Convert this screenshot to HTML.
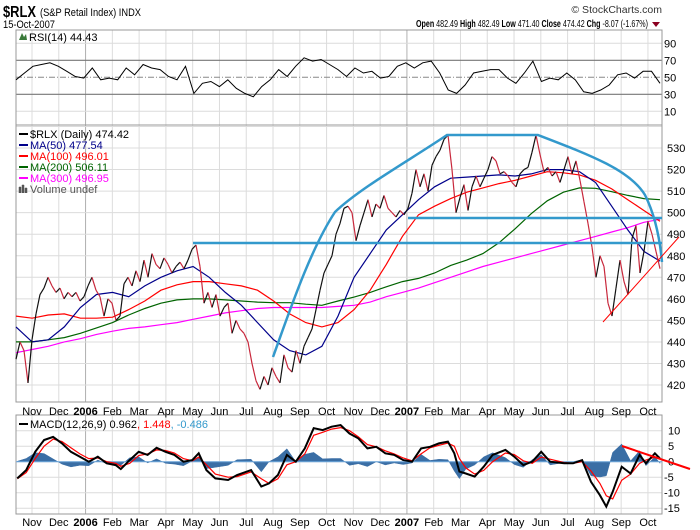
<!DOCTYPE html>
<html><head><meta charset="utf-8">
<style>
html,body{margin:0;padding:0;background:#fff;}
svg{display:block;font-family:"Liberation Sans","DejaVu Sans",sans-serif;}
</style></head>
<body>
<svg id="chart" width="700" height="530" viewBox="0 0 700 530" xmlns="http://www.w3.org/2000/svg">
  <g>
    <text x="3" y="17" font-size="16" font-weight="bold" textLength="33" lengthAdjust="spacingAndGlyphs">$RLX</text>
    <text x="40" y="16" font-size="11" textLength="101" lengthAdjust="spacingAndGlyphs">(S&amp;P Retail Index) INDX</text>
    <text x="3" y="28" font-size="11" textLength="52" lengthAdjust="spacingAndGlyphs">15-Oct-2007</text>
    <text x="662" y="13" font-size="10.5" text-anchor="end" fill="#333">© StockCharts.com</text>
    <text x="416" y="27" font-size="10.5" textLength="232" lengthAdjust="spacingAndGlyphs"><tspan font-weight="bold">Open</tspan> 482.49 <tspan font-weight="bold">High</tspan> 482.49 <tspan font-weight="bold">Low</tspan> 471.40 <tspan font-weight="bold">Close</tspan> 474.42 <tspan font-weight="bold">Chg</tspan> -8.07 (-1.67%)</text>
    <polygon points="652,22 660,22 656,27" fill="#8b0020"/>
  </g>
  <g id="grid"></g>
  <g id="marks"></g>
</svg>
<script>
// ---------- data ----------
const monthLabels = ["Nov","Dec","2006","Feb","Mar","Apr","May","Jun","Jul","Aug","Sep","Oct","Nov","Dec","2007","Feb","Mar","Apr","May","Jun","Jul","Aug","Sep","Oct"];
const priceTicks = [530,520,510,500,490,480,470,460,450,440,430,420];
const rsiTicks = [90,70,50,30,10];
const macdTicks = [10,5,0,-5,-10,-15];
const closes = [432,440,436,421,441,453,462,465,470,466,463,465,460,463,461,463,459,461,466,470,464,461,452,460,458,450,452,467,470,466,473,468,478,470,481,476,474,479,476,472,475,477,474,478,483,485,475,458,463,456,462,452,456,458,444,450,446,444,440,430,422,418,424,420,428,424,421,434,428,426,436,430,438,442,446,455,464,472,476,480,490,495,502,503,500,487,494,500,506,498,504,502,508,502,500,498,501,499,502,509,520,512,518,510,522,526,529,534,536,520,500,507,513,501,512,517,512,516,520,526,524,518,519,517,514,512,518,520,521,528,536,527,519,521,517,519,514,520,526,518,524,515,505,495,484,470,480,475,458,452,465,478,468,462,488,494,472,482,496,490,482,474];
const ma50 = [447,440,441,447,456,462,463,461,466,470,473,475,470,463,457,449,441,436,434,438,452,470,481,492,499,506,512,516,516.5,517,517.5,517,518,520,520,519,514,503,492,482,477.5];
const ma100 = [452,451,452.5,453,451,451,451.5,455,459,464,466.5,468,468,467,466,464,459,453,449,447,449,455,464,476,489,499,503,506.5,509.5,511.5,513.5,515,517,519,518.5,517.5,515,511,506,501,496];
const ma200 = [440,440,441,442,444,446.5,449,452.5,455.5,458,459.5,460,460,459.5,459,458.5,458.2,458.2,457.5,457,459,460.8,463,465.6,468,469.5,472,475.5,478,481,486,492.5,499.5,505.5,509.5,511.5,511.3,509.7,508,506.5,506];
const ma300 = [435,436.5,438,440,441.5,443.5,445,446.3,447,448,449,450.5,452,453.5,454.5,455.5,456,456,456,456,456.5,457,458.5,461,463,465,467.5,470,472.5,475,477,479,481,483,485,487,489,491,493,495.5,496.9];
const rsi = [47,55,63,65,67,63,57,51,49,61,47,49,47,61,53,65,61,59,51,47,63,31,43,45,39,47,37,31,27,39,47,59,51,63,73,69,71,65,59,51,61,55,57,49,51,63,67,61,67,69,55,35,31,41,55,57,59,59,49,43,55,69,45,49,47,55,47,33,31,35,41,53,55,49,57,57,43];
const macdDay = [1,8,15,22,29,36,43,50,57,64,71,78,82,89,96,103,110,117,124,131,138,143,149,156,166,173,184,192,198,205,212,219,226,233,240,247,254,261,268,275,282,289,296,303,310,317,324,331,338,343,347,352,359,366,373,383,390,397,404,411,418,429,436,443,450,457,462,467,474,481,488,493,500,504];
const macdLine = [-5.4,-2.7,3.2,7,8,5.9,3.2,1.6,0,1.6,-0.5,-1.1,-2.4,0.5,3.2,2.2,4.5,3.2,2.2,0,0.5,2.7,-2.7,-5.4,-5.9,-4.3,-2.7,-8,-7,-4.3,2.2,0,4.3,10.8,10.2,11.3,11.8,9.1,7.5,4.3,4.8,2.7,2.2,0.5,0,4.3,4.8,5.9,6.5,2.7,-3.2,-3.8,-4.8,-1.6,2.2,3.8,1.6,-1.1,0,3.2,0,-0.5,-0.5,0.5,-6.5,-10.8,-14.5,-9.7,-1.6,-3.8,2.2,-0.5,2.7,1];
const macdSignal = [-5.5,-3.5,1,5,7.3,6.5,4.5,2.5,1,1.2,0,-0.5,-1.5,-0.5,2,2.5,3.8,3.6,2.8,1,0.3,1.5,-1,-4,-5,-4.8,-3.3,-5.5,-7,-5.5,-1,0,2.5,8.5,9.5,10.5,11,10,8,5.5,4.8,3.5,2.5,1.2,0.3,2.5,4.5,5.3,6,5,1,-2,-4,-2.8,0,2.8,2.3,0.3,-0.5,1.5,0.8,-0.3,-0.5,0,-3,-7,-11,-12,-6,-4,-0.5,0.5,1.5,1.4];

// ---------- scales ----------
const X0 = 16, X1 = 662, XEND = 660, TOTAL_DAYS = 504;
function monthX(k){ return 32 + k*26.78; }
function idxX(i, n){ return X0 + i*(XEND - X0)/(n-1); }
function dayX(d){ return X0 + d*(XEND - X0)/TOTAL_DAYS; }
function yPrice(v){ return 148 + (530 - v)*2.155; }
function yRsi(v){ return 77.3 - (v - 50)*0.85; }
function yMacd(v){ return 461.7 - v*3.1; }

const NS = "http://www.w3.org/2000/svg";
const grid = document.getElementById('grid');
const marks = document.getElementById('marks');
function mk(tag, attrs, parent){
  const e = document.createElementNS(NS, tag);
  for (const k in attrs) e.setAttribute(k, attrs[k]);
  (parent||marks).appendChild(e);
  return e;
}

const panels = [
  {name:'rsi-panel', top:30, bottom:125},
  {name:'price-panel', top:125, bottom:402},
  {name:'macd-panel', top:415, bottom:514}
];

panels.forEach(p => {
  monthLabels.forEach((m, k) => {
    const x = monthX(k);
    const yr = (m === "2006" || m === "2007");
    const l = mk('line', {x1:x, x2:x, y1:p.top, y2:p.bottom, stroke: yr ? '#b0b0b0' : '#dcdcdc', 'stroke-width':1}, grid);
    
    
  });
});

[90,10].forEach(v => {
  const l = mk('line', {x1:X0, x2:X1, y1:yRsi(v), y2:yRsi(v), stroke:'#dcdcdc'}, grid);
  
  
});
[70,30].forEach(v => {
  const l = mk('line', {x1:X0, x2:X1, y1:yRsi(v), y2:yRsi(v), stroke:'#777', 'stroke-width':1.2}, grid);
  
  
});
{
  const l = mk('line', {x1:X0, x2:X1, y1:yRsi(50), y2:yRsi(50), stroke:'#888', 'stroke-dasharray':'6,2,1,2'}, grid);
  
  
}
rsiTicks.forEach(v => {
  const t = mk('text', {x:664, y:yRsi(v)+4, 'font-size':11}, grid);
  t.textContent = v;
  
  
});

[540].concat(priceTicks).forEach(v => {
  const l = mk('line', {x1:X0, x2:X1, y1:yPrice(v), y2:yPrice(v), stroke:'#dcdcdc'}, grid);
  
  
});
priceTicks.forEach(v => {
  const t = mk('text', {x:667, y:yPrice(v)+4, 'font-size':11}, grid);
  t.textContent = v;
  
  
});

macdTicks.forEach(v => {
  const l = mk('line', {x1:X0, x2:X1, y1:yMacd(v), y2:yMacd(v), stroke:'#dcdcdc'}, grid);
  
  
  const t = mk('text', {x: v < 0 ? 664 : 668, y:yMacd(v)+4, 'font-size':11}, grid);
  t.textContent = v;
  
  
});

panels.forEach(p => {
  const r = mk('rect', {x:X0, y:p.top, width:X1-X0, height:p.bottom-p.top, fill:'none', stroke:'#999'}, grid);
  
  
});

[415, 526].forEach(yy => {
  monthLabels.forEach((m, k) => {
    const yr = (m === "2006" || m === "2007");
    const t = mk('text', {x:monthX(k), y:yy, 'font-size':11, 'text-anchor':'middle', 'font-weight': yr ? 'bold':'normal'}, grid);
    t.textContent = m;
    
    
  });
});

// ---------- RSI ----------
{
  const pts = rsi.map((v,i) => idxX(i, rsi.length).toFixed(1) + ',' + yRsi(v).toFixed(1)).join(' ');
  const pl = mk('polyline', {points:pts, fill:'none', stroke:'#000', 'stroke-width':1});
  
  
  const lg = mk('text', {x:29, y:41, 'font-size':11});
  lg.textContent = 'RSI(14) 44.43';
  
  
  const ic = mk('polygon', {points:'19,40 22,33 24,37 26,34 27,40', fill:'#3a7a3a'});
  
  
}

// ---------- MAs ----------
function maLine(arr, color, name){
  const pts = arr.map((v,i) => idxX(i, arr.length).toFixed(1) + ',' + yPrice(v).toFixed(1)).join(' ');
  const pl = mk('polyline', {points:pts, fill:'none', stroke:color, 'stroke-width':1.2});
  
  
}
maLine(ma300, '#ff00ff', 'ma300-line');
maLine(ma200, '#006400', 'ma200-line');
maLine(ma100, '#ff0000', 'ma100-line');
maLine(ma50, '#00008b', 'ma50-line');

// ---------- price ----------
for (let i = 1; i < closes.length; i++){
  const up = closes[i] >= closes[i-1];
  const s = mk('line', {x1:idxX(i-1, closes.length), y1:yPrice(closes[i-1]), x2:idxX(i, closes.length), y2:yPrice(closes[i]), stroke: up ? '#111' : '#c8283c', 'stroke-width':1.2});
  
  
}

{
  const a1 = mk('line', {x1:193, y1:243, x2:662, y2:243, stroke:'#3399cc', 'stroke-width':2.5});
  
  
  const a2 = mk('line', {x1:408, y1:218, x2:662, y2:218, stroke:'#3399cc', 'stroke-width':2.5});
  
  
  const a3 = mk('path', {d:'M273,357 C290,310 310,250 335,212 C360,188 410,160 447,135 L538,135 C590,155 630,170 645,195 C655,215 660,240 662,262', fill:'none', stroke:'#3399cc', 'stroke-width':2.5});
  
  
  const a4 = mk('line', {x1:603, y1:322, x2:679, y2:237, stroke:'#ff0000', 'stroke-width':1});
  
  
}

{
  const items = [['$RLX (Daily) 474.42','#000'],['MA(50) 477.54','#00008b'],['MA(100) 496.01','#ff0000'],['MA(200) 506.11','#006400'],['MA(300) 496.95','#ff00ff'],['Volume undef','#555']];
  items.forEach((it, k) => {
    const y = 134 + k*11;
    if (k < 5){
      const sw = mk('line', {x1:19, x2:28, y1:y, y2:y, stroke:it[1], 'stroke-width':2});
      
      
    } else {
      const sw = mk('path', {d:'M19,'+(y+4)+' v-6 h2 v6 M22,'+(y+4)+' v-8 h2 v8 M25,'+(y+4)+' v-5 h2 v5', fill:'#555', stroke:'#555', 'stroke-width':0.5});
      
      
    }
    const t = mk('text', {x:30, y:y+4, 'font-size':11, fill:it[1]});
    t.textContent = it[0];
    
    
  });
}

// ---------- MACD ----------
{
  let d = 'M' + dayX(macdDay[0]).toFixed(1) + ',' + yMacd(0).toFixed(1);
  macdDay.forEach((day, i) => {
    d += ' L' + dayX(day).toFixed(1) + ',' + yMacd((macdLine[i]-macdSignal[i])*1.3).toFixed(1);
  });
  d += ' L' + dayX(macdDay[macdDay.length-1]).toFixed(1) + ',' + yMacd(0).toFixed(1) + ' Z';
  const h = mk('path', {d:d, fill:'#3a6ea5', stroke:'#3a6ea5', 'stroke-width':0.5});
  
  
  const z = mk('line', {x1:X0, x2:X1, y1:yMacd(0), y2:yMacd(0), stroke:'#6fa8dc', 'stroke-width':1});
  
  
  const sp = macdDay.map((day,i) => dayX(day).toFixed(1)+','+yMacd(macdSignal[i]).toFixed(1)).join(' ');
  const s = mk('polyline', {points:sp, fill:'none', stroke:'#ff0000', 'stroke-width':1.2});
  
  
  const mp = macdDay.map((day,i) => dayX(day).toFixed(1)+','+yMacd(macdLine[i]).toFixed(1)).join(' ');
  const m = mk('polyline', {points:mp, fill:'none', stroke:'#000', 'stroke-width':2});
  
  
  const tl = mk('line', {x1:622, y1:446, x2:690, y2:469, stroke:'#ff0000', 'stroke-width':2});
  
  
  const sw = mk('line', {x1:19, x2:28, y1:424, y2:424, stroke:'#000', 'stroke-width':2});
  
  
  const lg = mk('text', {x:30, y:428, 'font-size':11});
  lg.innerHTML = 'MACD(12,26,9) 0.962<tspan fill="#ff0000">, 1.448</tspan><tspan fill="#3399cc">, -0.486</tspan>';
  
  
}
</script>
</body></html>
